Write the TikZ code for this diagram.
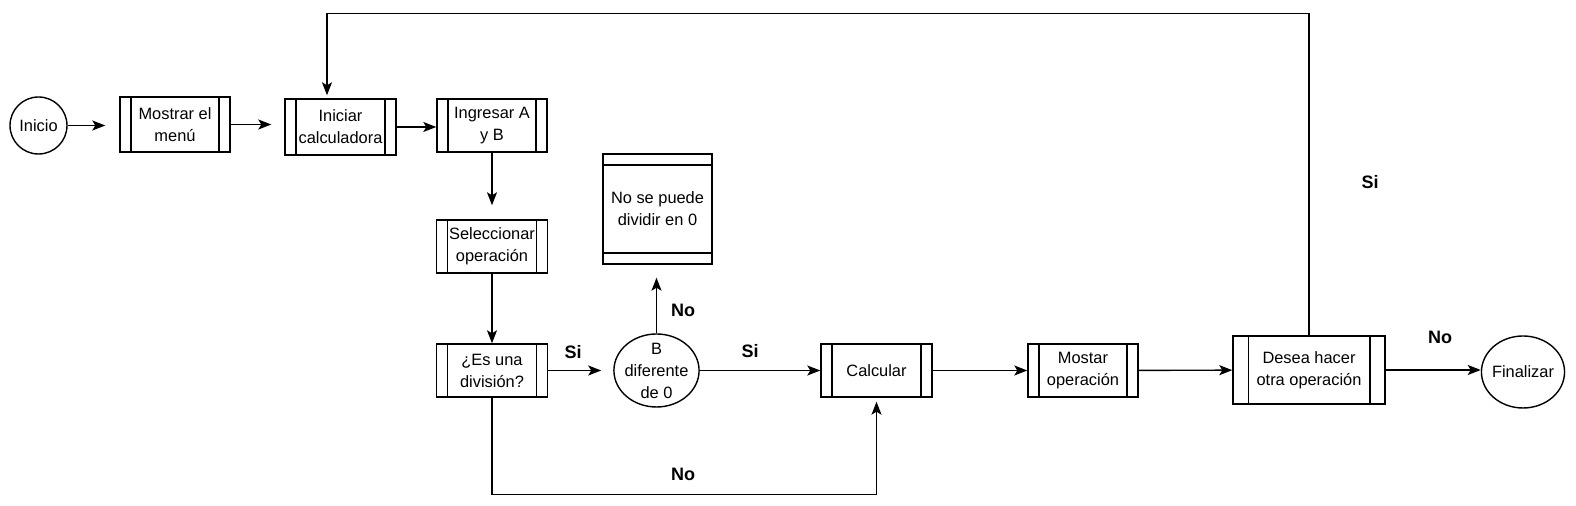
\documentclass[tikz,border=0pt]{standalone}
\usepackage{fontspec}
\setmainfont{Liberation Sans}
\usetikzlibrary{arrows.meta,shapes.geometric,calc}

\begin{document}
\begin{tikzpicture}[x=0.5pt,y=-0.5pt,
  every node/.style={align=center,font=\fontsize{8.2pt}{11pt}\selectfont},
  block/.style={draw,line width=0.7pt,inner sep=1pt,minimum width=55pt,minimum height=26.5pt},
  subproc/.style={block,path picture={
      \draw[line width=0.7pt]
        ($(path picture bounding box.north west)!0.1!(path picture bounding box.north east)$) --
        ($(path picture bounding box.south west)!0.1!(path picture bounding box.south east)$)
        ($(path picture bounding box.north west)!0.9!(path picture bounding box.north east)$) --
        ($(path picture bounding box.south west)!0.9!(path picture bounding box.south east)$);}},
  message/.style={block,path picture={
      \draw[line width=0.7pt]
        ($(path picture bounding box.north west)!0.1!(path picture bounding box.south west)$) --
        ($(path picture bounding box.north east)!0.1!(path picture bounding box.south east)$)
        ($(path picture bounding box.north west)!0.9!(path picture bounding box.south west)$) --
        ($(path picture bounding box.north east)!0.9!(path picture bounding box.south east)$);}},
  terminal/.style={draw,ellipse,line width=0.7pt,inner sep=0pt},
  lbl/.style={font=\fontsize{9pt}{11pt}\selectfont\bfseries},
  to/.style={-{Stealth[length=6.5pt,width=5pt,inset=1.5pt]},line width=0.7pt}]

  \useasboundingbox (0,0) rectangle (1576,506);

  % top row
  \node[terminal,minimum width=28.5pt,minimum height=28.5pt] (inicio) at (38.5,125.5) {Inicio};
  \node[subproc,minimum height=27.5pt] (menu) at (175,124.5) {Mostrar el\\menú};
  \node[subproc,minimum width=55.5pt,minimum height=28pt] (iniciar) at (340.5,127) {Iniciar\\calculadora};
  \node[subproc] (ingresar) at (492,125.5) {Ingresar A\\y B};

  % middle column
  \node[subproc,minimum width=55.5pt] (selec) at (492,246.5) {Seleccionar\\operación};
  \node[subproc,minimum width=55.5pt] (esdiv) at (492,370.5) {¿Es una\\división?};
  \node[terminal,inner xsep=-0.9pt,inner ysep=-1pt,minimum width=41.5pt,minimum height=36.5pt] (bdif) at (656.5,370.5) {B\\diferente\\de 0};
  \node[message,minimum width=54.5pt,minimum height=55pt] (nodiv) at (657.5,209) {No se puede\\dividir en 0};

  % bottom row
  \node[subproc,minimum width=55.5pt] (calc) at (876.5,370.5) {Calcular};
  \node[subproc] (mostar) at (1083,370.5) {Mostar\\operación};
  \node[subproc,minimum width=76pt,minimum height=34pt] (desea) at (1309,370) {Desea hacer\\otra operación};
  \node[terminal,inner xsep=-0.8pt,minimum width=41pt,minimum height=36pt] (fin) at (1523,372) {Finalizar};

  % labels
  \node[lbl] (si1) at (573,352) {Si};
  \node[lbl] (si2) at (750,351) {Si};
  \node[lbl] (no1) at (683,310) {No};
  \node[lbl] (no2) at (683,474) {No};
  \node[lbl] (si3) at (1370,182) {Si};
  \node[lbl] (no3) at (1440,337) {No};

  \draw[to,shorten >=7pt] (inicio) -- (inicio -| menu.west);
  \draw[to,shorten >=6.5pt] (menu) -- (menu -| iniciar.west);
  \draw[to] (iniciar) -- (iniciar -| ingresar.west);
  \draw[to,shorten >=7pt] (ingresar) -- (selec);
  \draw[to] (selec) -- (esdiv);
  \draw[to,shorten >=6pt] (esdiv) -- (esdiv -| bdif.west);
  \draw[to,shorten >=6.5pt] (bdif) -- (bdif |- nodiv.south);
  \draw[to] (bdif) -- (bdif -| calc.west);
  \draw[to] (calc) -- (mostar);
  \draw[to] (mostar) -- (desea);
  \draw[to] (desea) -- (desea -| fin.west);
  \draw[to,shorten >=2pt] (esdiv.south) -- ++(0,97) -| (calc.south);
  \draw[to,shorten >=1.5pt] (desea.north) -- ++(0,-322) -| ([xshift=-6.75pt]iniciar.north);
\end{tikzpicture}
\end{document}
